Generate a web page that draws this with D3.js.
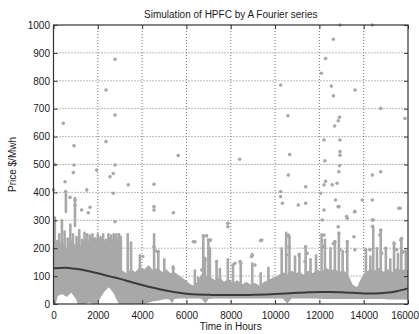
<!DOCTYPE html>
<html>
<head>
<meta charset="utf-8">
<script src="https://cdn.jsdelivr.net/npm/d3@7"></script>
<style>
  body { margin: 0; background: #fff; }
  text { font-family: "Liberation Sans", Arial, sans-serif; fill: #1a1a1a; }
</style>
</head>
<body>
<div id="chart"></div>
<script>
// tick labels
const xTicks = [0, 2000, 4000, 6000, 8000, 10000, 12000, 14000, 16000];
const yTicks = [0, 100, 200, 300, 400, 500, 600, 700, 800, 900, 1000];

// dense part of the price cloud: [hour, low, high]
const band = [
  [0,0,215],[100,0,230],[200,30,205],[400,35,225],[600,25,200],[800,40,230],[1000,20,210],
  [1100,0,225],[1200,0,205],[1400,0,235],[1600,5,225],[1800,0,240],[2000,0,230],[2100,20,240],
  [2300,45,225],[2500,60,240],[2700,40,230],[2850,15,240],[2950,0,225],[3060,0,235],[3100,0,120],
  [3300,0,110],[3500,0,125],[3700,0,115],[3900,0,135],[4100,0,125],[4300,5,140],[4500,10,120],
  [4700,12,130],[4900,15,115],[5100,18,125],[5250,15,112],[5350,2,110],[5450,18,115],[5700,20,100],
  [5900,20,90],[6100,20,75],[6300,20,65],[6500,20,80],[6700,18,110],[6850,2,100],[7000,18,100],
  [7300,20,85],[7500,20,95],[7700,20,80],[7900,20,90],[8100,20,75],[8300,20,85],[8500,20,70],
  [8700,20,80],[8900,20,70],[9100,20,75],[9300,20,65],[9500,20,80],[9700,20,85],[9900,20,95],
  [10100,20,100],[10350,20,115],[10550,2,105],[10750,20,120],[10900,20,110],[11100,20,115],
  [11300,20,105],[11500,20,120],[11700,20,110],[11900,20,125],[12100,18,115],[12300,18,130],
  [12500,18,120],[12700,18,125],[12900,18,115],[13100,18,120],[13300,18,105],[13500,18,70],
  [13700,18,60],[13900,18,95],[14100,18,115],[14300,18,125],[14500,18,120],[14700,18,130],
  [14900,18,115],[15100,16,125],[15300,16,115],[15500,16,130],[15700,16,120],[15900,15,125],
  [16000,15,120]
];

// daily spikes seen as vertical streaks: [hour, low, high]
const streaks = [
  [40,150,270],[60,150,310],[150,150,225],[260,150,250],[380,150,300],[500,150,260],[560,330,400],
  [640,150,235],[760,150,285],[880,150,250],[970,280,380],[1040,150,240],[1160,150,265],
  [1280,150,230],[1400,150,255],[1520,150,250],[1640,150,245],[1760,150,250],[1880,150,235],
  [2000,150,250],[2120,150,240],[2240,150,250],[2360,150,230],[2480,150,250],[2600,150,245],
  [2720,150,250],[2840,150,250],[2960,150,250],[3040,150,240],
  [3350,110,250],[3500,110,220],[3900,130,175],[4540,120,250],[4730,110,190],[5000,110,160],
  [5400,100,135],[6380,60,120],[6530,70,95],[6760,90,245],[6840,90,165],[6990,90,230],
  [7060,90,200],[7360,80,152],[7510,80,125],[7870,75,160],[8100,70,140],[8450,70,150],
  [8970,70,145],[9350,70,110],[9700,80,130],[10300,95,200],[10500,100,255],[10650,100,240],
  [10900,105,170],[11100,110,180],[11380,105,205],[11600,110,160],[11850,110,175],
  [12100,115,250],[12250,120,230],[12500,115,200],[12700,120,225],[12880,115,255],
  [13050,115,190],[13260,105,225],[14100,110,195],[14300,120,170],[14430,120,280],
  [14600,115,200],[14770,120,265],[15000,115,200],[15200,115,160],[15370,110,220],
  [15550,120,180],[15700,115,235],[15900,115,190]
];

// isolated price spikes: [hour, price]
const spikes = [
  [2780,877],[2370,767],[2775,677],[443,648],[925,567],[2370,582],[5630,532],[925,498],[2775,498],[68,500],
  [12930,1000],[14390,1000],[12630,949],[12280,880],[12090,827],[10250,785],[12540,781],[13610,767],
  [12630,746],[14770,701],[15860,665],[10580,675],[12910,669],[12850,657],[12690,638],[12210,588],
  [12930,588],[10660,536],[12930,546],[12930,533],[12250,513],[8400,519],[12910,496],
  [520,438],[895,471],[1950,480],[2550,456],[2700,468],[3375,427],[4535,429],[0,409],[550,403],
  [745,382],[970,373],[970,355],[1270,337],[1570,327],[1650,347],[1500,409],[2700,397],[2775,295],
  [4535,349],[4535,337],[5410,327],[4535,205],[4650,190],[6310,223],[6910,244],
  [10600,462],[10250,403],[10250,385],[10330,361],[11050,355],[11380,361],[11380,420],[12060,397],
  [12210,427],[12280,440],[12580,427],[12800,433],[12880,474],[12210,337],[12130,301],[12730,373],
  [12880,349],[13260,307],[13590,331],[13935,373],[14390,373],[14390,462],[14770,474],[15590,343],
  [14390,301],[14390,277],[14770,265],[15670,229],[15370,217],[13560,241],[13260,223],[12880,253],
  [12700,223],[12210,247],[11380,205],[10630,241],[10630,205],[9350,227],[7870,289],[7870,277],
  [8970,176],[8450,146],[8100,140],[7090,229],[11080,176],[11450,182],[14090,194],[14990,200],
  [15740,187],[12850,349],[13600,331],[15640,343],[12850,277],[13230,313],[14430,301],[14730,247],
  [15710,235],[12175,205],[12630,217],[12930,194],[13230,187],[13600,194],[14280,194],[14810,182],
  [15490,194],[15790,187],[9400,229],[10600,247],[8940,170],[8190,146],[8420,152],[9090,140],
  [11350,152],[10520,176],[4030,170],[4730,187],[6385,223],[6760,244],[6990,229],[6840,158],
  [7360,152],[6690,122],[5410,128]
];

// fitted Fourier curve
const curveHours = [0,500,1000,1500,2000,2500,3000,3500,4000,4500,5000,5500,6000,6500,7000,7500,8000,
  8500,9000,9500,10000,10500,11000,11500,12000,12500,13000,13500,14000,14500,15000,15500,16000];
const curveValues = [128,130,126,119,110,100,90,79,68,58,49,42,37,34,33,32,32,
  32,33,34,36,38,40,42,43,43,42,40,38,38,40,46,56];

const margin = { top: 25, right: 11, bottom: 30, left: 53.5 },
      width = 419 - margin.left - margin.right,
      height = 334 - margin.top - margin.bottom;

const ptColor = "#a8a8a8";

const svg = d3.select("#chart").append("svg")
  .attr("width", 419)
  .attr("height", 334)
  .append("g")
  .attr("transform", `translate(${margin.left},${margin.top})`);

const x = d3.scaleLinear().domain([0, 16000]).range([0, width]);
const y = d3.scaleLinear().domain([0, 1000]).range([height, 0]);

// dotted grid
svg.append("g").selectAll("line")
  .data(xTicks.slice(1, -1))
  .join("line")
  .attr("x1", d => x(d)).attr("x2", d => x(d))
  .attr("y1", 0).attr("y2", height)
  .attr("stroke", "#777").attr("stroke-dasharray", "1,2");

svg.append("g").selectAll("line")
  .data(yTicks.slice(1, -1))
  .join("line")
  .attr("x1", 0).attr("x2", width)
  .attr("y1", d => y(d)).attr("y2", d => y(d))
  .attr("stroke", "#777").attr("stroke-dasharray", "1,2");

// dense cloud
const area = d3.area()
  .x(d => x(d[0]))
  .y0(d => y(d[1]))
  .y1(d => y(d[2]));

svg.append("path")
  .datum(band)
  .attr("fill", ptColor)
  .attr("d", area);

svg.append("g").selectAll("line")
  .data(streaks)
  .join("line")
  .attr("x1", d => x(d[0])).attr("x2", d => x(d[0]))
  .attr("y1", d => y(d[1])).attr("y2", d => y(d[2]))
  .attr("stroke", ptColor)
  .attr("stroke-width", 2.6)
  .attr("stroke-linecap", "round");

svg.append("g").selectAll("circle")
  .data(spikes)
  .join("circle")
  .attr("cx", d => x(d[0]))
  .attr("cy", d => y(d[1]))
  .attr("r", 1.8)
  .attr("fill", ptColor);

// Fourier curve
const line = d3.line()
  .x((d, i) => x(curveHours[i]))
  .y(d => y(d))
  .curve(d3.curveMonotoneX);

svg.append("path")
  .datum(curveValues)
  .attr("fill", "none")
  .attr("stroke", "#3a3a3a")
  .attr("stroke-width", 2)
  .attr("d", line);

// axes, ticks pointing inward
const styleAxis = g => {
  g.select(".domain").remove();
  g.selectAll(".tick line").attr("stroke", "#333");
  g.selectAll("text").style("font-size", "10px").attr("fill", "#1a1a1a");
};

svg.append("g")
  .attr("transform", `translate(0,${height})`)
  .call(d3.axisBottom(x).tickValues(xTicks).tickFormat(d3.format("d"))
    .tickSizeInner(-4).tickSizeOuter(0).tickPadding(8))
  .call(styleAxis)
  .call(g => g.selectAll(".tick:last-child text").attr("text-anchor", "end").attr("x", 10.5));

svg.append("g")
  .call(d3.axisLeft(y).tickValues(yTicks).tickFormat(d3.format("d"))
    .tickSizeInner(-4).tickSizeOuter(0).tickPadding(3.5))
  .call(styleAxis);

svg.append("g")
  .call(d3.axisTop(x).tickValues(xTicks).tickSizeInner(-4).tickSizeOuter(0).tickFormat(""))
  .call(styleAxis);

svg.append("g")
  .attr("transform", `translate(${width},0)`)
  .call(d3.axisRight(y).tickValues(yTicks).tickSizeInner(-4).tickSizeOuter(0).tickFormat(""))
  .call(styleAxis);

svg.append("rect")
  .attr("width", width)
  .attr("height", height)
  .attr("fill", "none")
  .attr("stroke", "#333")
  .attr("stroke-width", 1.2);

svg.append("text")
  .attr("x", width / 2)
  .attr("y", -7)
  .attr("text-anchor", "middle")
  .style("font-size", "10px")
  .text("Simulation of HPFC by A Fourier series");

svg.append("text")
  .attr("x", width / 2)
  .attr("y", height + 26)
  .attr("text-anchor", "middle")
  .style("font-size", "10px")
  .text("Time in Hours");

svg.append("text")
  .attr("x", -height / 2)
  .attr("y", -38)
  .attr("transform", "rotate(-90)")
  .attr("text-anchor", "middle")
  .style("font-size", "10px")
  .text("Price $/Mwh");
</script>
</body>
</html>
